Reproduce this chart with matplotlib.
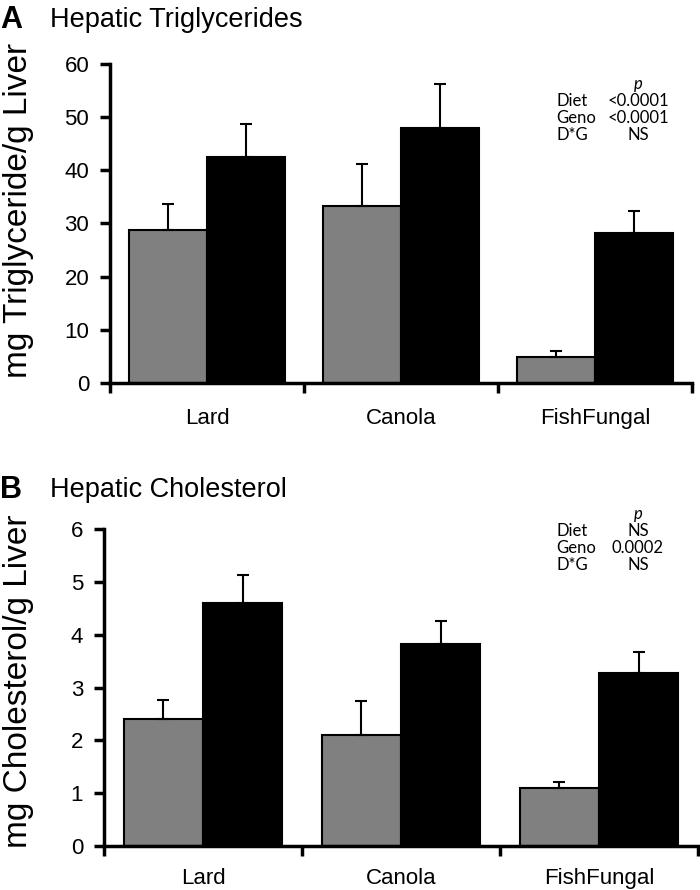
import matplotlib
matplotlib.use('Agg')
import matplotlib.pyplot as plt
import numpy as np

# data
diets = ['Lard', 'Canola', 'FishFungal']

tg_gray = [28.7, 33.3, 4.9]
tg_gray_err = [4.9, 7.8, 1.1]
tg_black = [42.5, 48.0, 28.2]
tg_black_err = [6.2, 8.2, 4.1]

chol_gray = [2.40, 2.10, 1.10]
chol_gray_err = [0.37, 0.65, 0.12]
chol_black = [4.60, 3.83, 3.28]
chol_black_err = [0.52, 0.42, 0.39]

tg_stats = [('Diet', '<0.0001'), ('Geno', '<0.0001'), ('D*G', 'NS')]
chol_stats = [('Diet', 'NS'), ('Geno', '0.0002'), ('D*G', 'NS')]

plt.rcParams['font.family'] = ['Liberation Sans', 'DejaVu Sans']

fig = plt.figure(figsize=(7, 8.9), dpi=100)


def panel(rect, gray, gray_err, black, black_err, ymax, ystep, ylabel, label_x, label_y,
          cat_pad, stats, stat_y):
    ax = fig.add_axes(rect)
    x = np.arange(len(diets))
    w = 0.4
    z = np.zeros(len(diets))
    ax.bar(x + 0.3, gray, w, color='#808080', edgecolor='black', linewidth=1.5,
           yerr=[z, gray_err], error_kw=dict(ecolor='black', elinewidth=1.5, capsize=4, capthick=1.5), zorder=2)
    ax.bar(x + 0.7, black, w, color='black', edgecolor='black', linewidth=1.5,
           yerr=[z, black_err], error_kw=dict(ecolor='black', elinewidth=1.5, capsize=4, capthick=1.5), zorder=2)
    ax.set_xlim(0, 3)
    ax.set_ylim(0, ymax)
    ax.set_yticks(np.arange(0, ymax + 0.001, ystep))
    ax.set_xticks([0, 1, 2, 3])
    ax.set_xticklabels([])
    ax.set_xticks([0.5, 1.5, 2.5], minor=True)
    ax.set_xticklabels(diets, minor=True, fontsize=16)
    ax.tick_params(axis='x', which='minor', length=0, pad=cat_pad)
    ax.tick_params(axis='x', which='major', direction='out', length=7, width=2.5)
    ax.tick_params(axis='y', direction='out', length=7, width=2.5, labelsize=16, pad=8)
    for s in ['top', 'right']:
        ax.spines[s].set_visible(False)
    for s in ['left', 'bottom']:
        ax.spines[s].set_linewidth(2.5)
    ax.set_ylabel(ylabel, fontsize=24)
    ax.yaxis.set_label_coords(label_x, label_y)
    # stats table
    fig.text(638 / 700, 1 - stat_y / 890, 'p', fontsize=12, style='italic',
             ha='center', va='center', family=['Lato', 'DejaVu Sans'])
    for i, (name, val) in enumerate(stats):
        yy = 1 - (stat_y + 17 * (i + 1)) / 890
        fig.text(556 / 700, yy, name, fontsize=12, ha='left', va='center', family=['Lato', 'DejaVu Sans'])
        fig.text(638 / 700, yy, val, fontsize=12, ha='center', va='center', family=['Lato', 'DejaVu Sans'])
    return ax


panel([110 / 700, 1 - 383 / 890, 582 / 700, 319 / 890],
      tg_gray, tg_gray_err, tg_black, tg_black_err, 60, 10,
      'mg Triglyceride/g Liver', -0.13, 0.54, 18, tg_stats, 84)
panel([104 / 700, 1 - 846 / 890, 594 / 700, 317 / 890],
      chol_gray, chol_gray_err, chol_black, chol_black_err, 6, 1,
      'mg Cholesterol/g Liver', -0.118, 0.52, 15.5, chol_stats, 514)

fig.text(0.0, 1 - 20 / 890, 'A', fontsize=22, fontweight='bold', ha='left', va='center')
fig.text(50 / 700, 1 - 20 / 890, 'Hepatic Triglycerides', fontsize=19.5, ha='left', va='center')
fig.text(0.0, 1 - 490 / 890, 'B', fontsize=22, fontweight='bold', ha='left', va='center')
fig.text(50 / 700, 1 - 490 / 890, 'Hepatic Cholesterol', fontsize=19.5, ha='left', va='center')

fig.savefig('out.png', dpi=100)
